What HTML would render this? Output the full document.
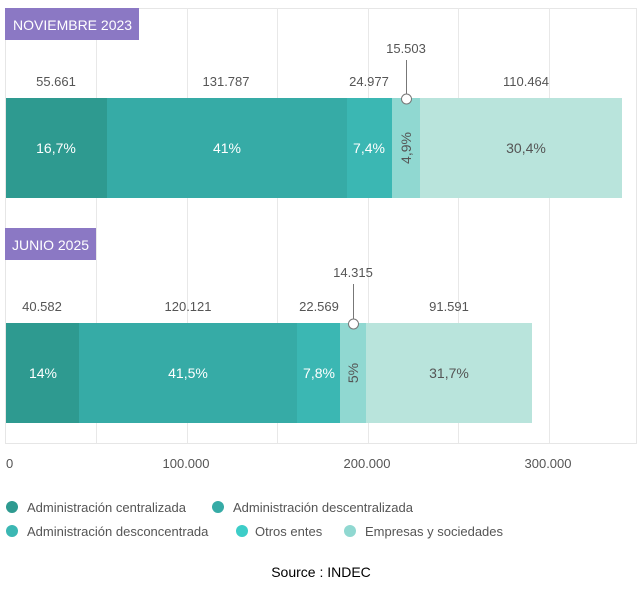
<!DOCTYPE html>
<html><head><meta charset="utf-8"><style>
body{margin:0;background:#fff;width:642px;height:586px;overflow:hidden}
svg text{font-family:"Liberation Sans",sans-serif}
</style></head><body>
<svg width="642" height="586" xmlns="http://www.w3.org/2000/svg">
<rect x="5.5" y="8.5" width="631" height="435" fill="#fff" stroke="#e6e6e6"/>
<g stroke="#e8e8e8">
<line x1="96.5" y1="8" x2="96.5" y2="443"/><line x1="187.5" y1="8" x2="187.5" y2="443"/>
<line x1="277.5" y1="8" x2="277.5" y2="443"/><line x1="368.5" y1="8" x2="368.5" y2="443"/>
<line x1="458.5" y1="8" x2="458.5" y2="443"/><line x1="549.5" y1="8" x2="549.5" y2="443"/>
</g>
<rect x="5" y="8" width="134" height="32" fill="#8b78c4"/>
<text x="13" y="30" font-size="14" fill="#fff">NOVIEMBRE 2023</text>
<rect x="5" y="228" width="91" height="32" fill="#8b78c4"/>
<text x="12" y="250" font-size="14" fill="#fff">JUNIO 2025</text>
<g font-size="13" fill="#555" text-anchor="middle">
<text x="56" y="86">55.661</text><text x="226" y="86">131.787</text><text x="369" y="86">24.977</text><text x="526" y="86">110.464</text>
<text x="406" y="53">15.503</text>
<text x="42" y="311">40.582</text><text x="188" y="311">120.121</text><text x="319" y="311">22.569</text><text x="449" y="311">91.591</text>
<text x="353" y="277">14.315</text>
</g>
<rect x="6" y="98" width="101" height="100" fill="#2e9a90"/>
<rect x="107" y="98" width="240" height="100" fill="#36aba6"/>
<rect x="347" y="98" width="45" height="100" fill="#3bb7b3"/>
<rect x="392" y="98" width="28" height="100" fill="#90d8d1"/>
<rect x="420" y="98" width="202" height="100" fill="#b9e4dc"/>
<rect x="6" y="323" width="73" height="100" fill="#2e9a90"/>
<rect x="79" y="323" width="218" height="100" fill="#36aba6"/>
<rect x="297" y="323" width="43" height="100" fill="#3bb7b3"/>
<rect x="340" y="323" width="26" height="100" fill="#90d8d1"/>
<rect x="366" y="323" width="166" height="100" fill="#b9e4dc"/>
<line x1="406.5" y1="60" x2="406.5" y2="98" stroke="#777"/>
<circle cx="406.5" cy="99" r="5" fill="#fff" stroke="#777"/>
<line x1="353.5" y1="284" x2="353.5" y2="323" stroke="#777"/>
<circle cx="353.5" cy="324" r="5" fill="#fff" stroke="#777"/>
<g font-size="14" text-anchor="middle">
<text x="56" y="153" fill="#fff">16,7%</text><text x="227" y="153" fill="#fff">41%</text><text x="369" y="153" fill="#fff">7,4%</text>
<text x="526" y="153" fill="#555">30,4%</text>
<text transform="translate(411,148) rotate(-90)" fill="#555">4,9%</text>
<text x="43" y="378" fill="#fff">14%</text><text x="188" y="378" fill="#fff">41,5%</text><text x="319" y="378" fill="#fff">7,8%</text>
<text x="449" y="378" fill="#555">31,7%</text>
<text transform="translate(358,373) rotate(-90)" fill="#555">5%</text>
</g>
<g font-size="13" fill="#555">
<text x="6" y="468">0</text><text x="186" y="468" text-anchor="middle">100.000</text>
<text x="367" y="468" text-anchor="middle">200.000</text><text x="548" y="468" text-anchor="middle">300.000</text>
</g>
<g font-size="13" fill="#555">
<circle cx="12" cy="507" r="6" fill="#2e9a90"/><text x="27" y="512">Administración centralizada</text>
<circle cx="218" cy="507" r="6" fill="#36aba6"/><text x="233" y="512">Administración descentralizada</text>
<circle cx="12" cy="531" r="6" fill="#3bb7b3"/><text x="27" y="536">Administración desconcentrada</text>
<circle cx="242" cy="531" r="6" fill="#3dcdc8"/><text x="255" y="536">Otros entes</text>
<circle cx="350" cy="531" r="6" fill="#90d8d1"/><text x="365" y="536">Empresas y sociedades</text>
</g>
<text x="321" y="577" font-size="14" fill="#000" text-anchor="middle">Source : INDEC</text>
</svg>
</body></html>
